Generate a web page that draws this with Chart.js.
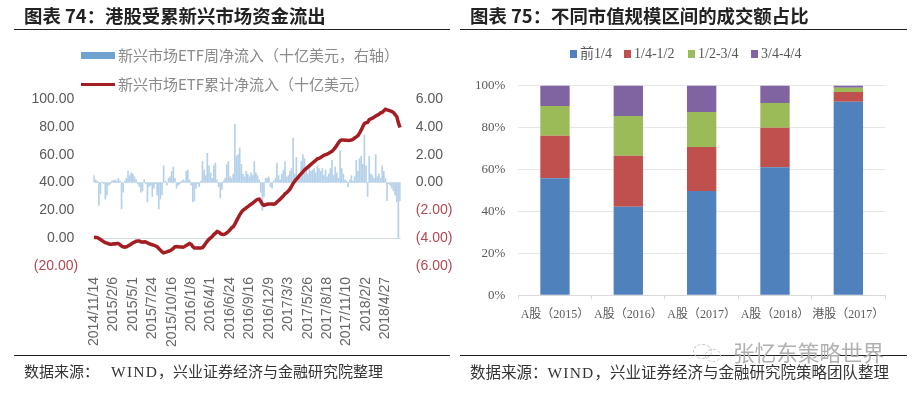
<!DOCTYPE html>
<html>
<head>
<meta charset="utf-8">
<script src="https://cdn.jsdelivr.net/npm/chart.js@4"></script>
<style>
  html, body { margin: 0; padding: 0; background: #fff; }
  body { position: relative; width: 915px; height: 393px; overflow: hidden; font-family: "Noto Sans CJK SC", sans-serif; }
  canvas { position: absolute; top: 0; }
  .title { position: absolute; top: 0; font-size: 18.4px; font-weight: 700; line-height: 30px; color: #222; white-space: nowrap; }
  .rule { position: absolute; height: 1px; background: #222; }
  .source { position: absolute; top: 360px; font-size: 15px; line-height: 22px; color: #333; white-space: nowrap; }
  .source b { font: 15.5px "Liberation Serif", serif; letter-spacing: 1.2px; }
  .legend-row { position: absolute; font-size: 15px; line-height: 20px; color: #8a8a8a; white-space: nowrap; }
  .swatch { position: absolute; }
  .legend2 { position: absolute; top: 44px; font: 14px "Liberation Serif", "Noto Sans CJK SC", serif; line-height: 20px; color: #555; white-space: nowrap; }
  .mark { position: absolute; top: 338px; left: 733px; font-size: 21.6px; line-height: 28px; color: #b0b0b0; white-space: nowrap; }
  .bubble { position: absolute; border: 1px dashed #c4c4c4; border-radius: 50%; }
</style>
</head>
<body>
<canvas id="flowChart" width="452" height="393" style="left:0"></canvas>
<canvas id="shareChart" width="455" height="393" style="left:460px"></canvas>

<div class="title" style="left:24px">图表 74：港股受累新兴市场资金流出</div>
<div class="title" style="left:470px">图表 75：不同市值规模区间的成交额占比</div>
<div class="rule" style="left:14px;width:436px;top:29px"></div>
<div class="rule" style="left:460px;width:447px;top:29px"></div>
<div class="rule" style="left:14px;width:436px;top:355px"></div>
<div class="rule" style="left:460px;width:447px;top:355px"></div>
<div class="source" style="left:24px">数据来源：&nbsp;&nbsp;&nbsp;<b style="margin-left:2px">WIND</b>，兴业证券经济与金融研究院整理</div>
<div class="source" style="left:470px;font-size:15.5px">数据来源：<b>WIND</b>，兴业证券经济与金融研究院策略团队整理</div>

<div class="bubble" style="left:693px;top:344px;width:17px;height:13px"></div>
<div class="bubble" style="left:705px;top:349px;width:14px;height:11px"></div>
<div class="mark">张忆东策略世界</div>

<div id="flowLegend"></div>
<div id="shareLegend"></div>

<script>
// Chart 74: ETF flows
const flowTickLabels = ["2014/11/14", "2015/2/6", "2015/5/1", "2015/7/24", "2015/10/16", "2016/1/8", "2016/4/1", "2016/6/24", "2016/9/16", "2016/12/9", "2017/3/3", "2017/5/26", "2017/8/18", "2017/11/10", "2018/2/2", "2018/4/27"];
const weeklyLabel = "新兴市场ETF周净流入（十亿美元，右轴）";
const cumulativeLabel = "新兴市场ETF累计净流入（十亿美元）";

const weeklyFlow = [
  0.5, 0.2, 0.1, -1.65, -0.8, 0.05, -0.1, -1.2, -0.9, -0.2,
  -0.1, 0.1, 0.15, 0.2, 0.1, 0.3, 0.1, -1.9, -0.7, 0.1,
  0.3, 0.8, 0.5, 0.7, 0.6, 0.4, 0.2, -0.1, -0.3, -0.7,
  -0.6, 0.2, -0.1, -1.4, -0.3, -0.2, -1.0, -0.4, -0.1, -0.9,
  -1.9, -1.2, -0.9, 1.2, 0.1, -0.2, 0.3, 0.4, 0.8, 1.1,
  0.3, -0.4, -0.2, -0.1, 0.1, 0.2, 0.1, 0.8, 0.9, 0.2,
  -0.2, -1.4, -1.3, -0.4, -0.1, -0.3, 0.1, 1.5, 0.9, 0.5,
  2.1, 1.2, 0.7, 0.3, 1.2, 1.4, 0.2, -0.3, -1.1, -0.5,
  0.1, 0.3, 1.3, 1.5, 0.4, 0.3, 0.6, 4.2, 1.9, 2.0,
  2.5, 1.3, 0.6, 0.4, 0.8, 0.6, 0.4, 0.7, 0.5, 1.5,
  0.7, 0.5, 0.2, -0.7, -2.0, -1.0, 0.3, 0.3, 0.4, -0.3,
  -0.4, 0.1, 0.3, 1.4, 0.5, 0.2, 0.6, 0.9, 1.5, 0.4,
  0.5, 0.8, 1.0, 3.2, 0.6, 1.8, 0.3, 0.5, 1.5, 2.0,
  1.7, 1.0, 0.6, 1.2, 0.8, 0.9, 1.0, 0.7, 1.2, 1.0,
  0.8, 1.0, 0.5, 0.9, 0.4, 0.6, 1.0, 1.6, 0.5, 1.1,
  0.7, 0.3, 2.3, 1.0, 0.6, 0.2, 0.1, -0.3, 0.2, 0.5,
  0.1, 0.4, 1.6, 0.8, 1.7, 1.9, 1.3, 3.4, 1.2, -1.0,
  1.9, 0.6, 0.5, 0.3, 2.0, 0.4, 0.6, 0.3, 1.2, 0.8,
  0.3, -1.3, -0.1, -0.2, -0.4, -0.6, -0.9, -1.4, -4.0, -1.3
];

const cumulativeFlow = [
  0.5, 0.6, 0.4, -0.3, -1, -1.8, -2.6, -3.2, -3.6, -4.0,
  -4.3, -4.4, -4.1, -4.2, -3.9, -3.8, -4.6, -5.6, -6.2, -6.5,
  -6.2, -5.6, -4.9, -4.2, -3.4, -2.9, -2.2, -2, -2.1, -2.6,
  -2.9, -2.6, -2.7, -3.4, -3.9, -4.4, -4.7, -5.1, -5.6, -6.2,
  -7.4, -8.6, -9.8, -10.5, -10.2, -9.9, -9.4, -9, -8.2, -7.3,
  -6.2, -6, -6.1, -6.3, -6.4, -6.5, -6, -5.2, -4.5, -3.8,
  -4.4, -6, -7, -7, -7.1, -7, -7, -6.8, -5.4, -3.6,
  -2.2, -0.8, 0.2, 1.2, 2.6, 3.6, 4.8, 4.4, 3.4, 2.8,
  2.6, 3, 3.8, 4.8, 6, 7.4, 8.2, 10, 12.4, 14.6,
  16.8, 18.6, 20, 20.8, 21.8, 22.6, 23.6, 24.3, 25.2, 26.2,
  27.2, 27.9, 28, 26.4, 24.4, 23.6, 24, 24.4, 24.6, 24.5,
  24.6, 24.4, 24.8, 26, 27, 28, 29.2, 30.4, 31.9, 32.8,
  33.8, 35.2, 37.2, 39.3, 41, 42.4, 43.6, 45.2, 46.4, 47.6,
  49, 50, 51, 52, 53, 54, 55, 56, 57, 57.4,
  58, 58.8, 59.6, 60, 60.4, 61, 61.7, 62.4, 63.6, 65,
  66.8, 68.6, 70, 70.6, 70.6, 70.4, 70.4, 70.2, 70.3, 70.5,
  71, 72, 72.8, 73.6, 75.4, 77.6, 80, 82.4, 83, 83.2,
  85.2, 85.7, 86.2, 87, 87.8, 88.4, 89, 90, 90.4, 91.6,
  92.6, 92.2, 91.8, 91.4, 91, 90.2, 88.8, 87.4, 83, 79.5
];

// Chart 75: turnover share by market cap bucket
const shareCategories = ["A股（2015）", "A股（2016）", "A股（2017）", "A股（2018）", "港股（2017）"];
const shareTop = [55.8, 42.2, 49.7, 61, 92.3];
const shareSecond = [20.2, 24.3, 21, 18.9, 4.6];
const shareThird = [14.2, 19, 16.7, 11.8, 2];
const shareLast = [9.8, 14.5, 12.6, 8.3, 1.1];
const shareNames = ["前1/4", "1/4-1/2", "1/2-3/4", "3/4-4/4"];
const shareColors = ["#4f81bd", "#c0504d", "#9bbb59", "#8064a2"];

const grey = "#595959";
const red = "#b4474f";
const sansFont = "'Liberation Sans', sans-serif";
const serifFont = "'Liberation Serif', 'Noto Sans CJK SC', serif";

// negative numbers are shown in red brackets, like the Excel number format
function moneyLabel(v) {
  return v < 0 ? "(" + Math.abs(v).toFixed(2) + ")" : v.toFixed(2) + " ";
}
function moneyColor(ctx) {
  return ctx.tick.value < 0 ? red : grey;
}

new Chart(document.getElementById("flowChart"), {
  data: {
    labels: weeklyFlow.map((v, i) => i),
    datasets: [
      { type: "line", label: cumulativeLabel, data: cumulativeFlow, yAxisID: "y", borderColor: "#a31d22", borderWidth: 3.5, pointRadius: 0, tension: 0, order: 1 },
      { type: "bar", label: weeklyLabel, data: weeklyFlow, yAxisID: "y1", backgroundColor: "#b5d1e9", barThickness: 1, order: 2 }
    ]
  },
  options: {
    responsive: false,
    animation: false,
    layout: { padding: { top: 99 } },
    plugins: { legend: { display: false }, tooltip: { enabled: false } },
    scales: {
      x: {
        afterFit: s => { s.height = 127; },
        grid: { display: false },
        border: { display: false },
        ticks: {
          autoSkip: false, minRotation: 90, maxRotation: 90, padding: 3,
          font: { family: sansFont, size: 14 }, color: "#666666",
          callback: (v, i) => (i % 12 === 0 ? flowTickLabels[i / 12] : "")
        }
      },
      y: {
        position: "left", min: -20, max: 100,
        afterFit: s => { s.width = 93.2; },
        border: { display: false },
        grid: { drawTicks: false, color: ctx => (ctx.tick.value === 0 ? "#d5dce4" : "transparent") },
        ticks: { stepSize: 20, padding: 15, font: { family: sansFont, size: 14 }, color: moneyColor, callback: moneyLabel }
      },
      y1: {
        position: "right", min: -6, max: 6,
        afterFit: s => { s.width = 51.2; },
        border: { display: false },
        grid: { display: false, drawTicks: false },
        ticks: { stepSize: 2, padding: 15, font: { family: sansFont, size: 14 }, color: moneyColor, callback: moneyLabel }
      }
    }
  }
});

new Chart(document.getElementById("shareChart"), {
  type: "bar",
  data: {
    labels: shareCategories,
    datasets: [shareTop, shareSecond, shareThird, shareLast].map((values, i) => ({
      label: shareNames[i], data: values, backgroundColor: shareColors[i],
      categoryPercentage: 1, barPercentage: 0.4
    }))
  },
  options: {
    responsive: false,
    animation: false,
    layout: { padding: { top: 85.5, right: 30 } },
    plugins: { legend: { display: false }, tooltip: { enabled: false } },
    scales: {
      x: {
        stacked: true,
        afterFit: s => { s.height = 97.7; },
        border: { color: "#d9d9d9" },
        grid: { drawOnChartArea: false, tickLength: 4, color: "#d9d9d9" },
        ticks: { maxRotation: 0, autoSkip: false, padding: 8, font: { family: serifFont, size: 12 }, color: grey }
      },
      y: {
        stacked: true, min: 0, max: 100,
        afterFit: s => { s.width = 58.3; },
        border: { display: false },
        grid: { drawTicks: false, color: "#e6e6e6" },
        ticks: { stepSize: 20, padding: 13, font: { family: serifFont, size: 13 }, color: grey, callback: v => v + "%" }
      }
    }
  }
});

// legends are placed by hand, the two charts keep a fixed plot area
function addSwatch(box, left, top, width, height, color) {
  const el = document.createElement("div");
  el.className = "swatch";
  el.style.cssText = `left:${left}px;top:${top}px;width:${width}px;height:${height}px;background:${color}`;
  box.appendChild(el);
}
function addText(box, cls, left, top, text) {
  const el = document.createElement("div");
  el.className = cls;
  el.style.left = left + "px";
  el.style.top = top + "px";
  el.textContent = text;
  box.appendChild(el);
}

const flowLegend = document.getElementById("flowLegend");
addSwatch(flowLegend, 81, 52, 34, 7, "#6fa3d2");
addText(flowLegend, "legend-row", 118, 45, weeklyLabel);
addSwatch(flowLegend, 81, 83, 34, 3, "#a31d22");
addText(flowLegend, "legend-row", 118, 74, cumulativeLabel);

const shareLegend = document.getElementById("shareLegend");
[570, 624, 688, 751].forEach((x, i) => {
  addSwatch(shareLegend, x, 50, 7, 8, shareColors[i]);
  addText(shareLegend, "legend2", x + 10, 44, shareNames[i]);
});
</script>
</body>
</html>
